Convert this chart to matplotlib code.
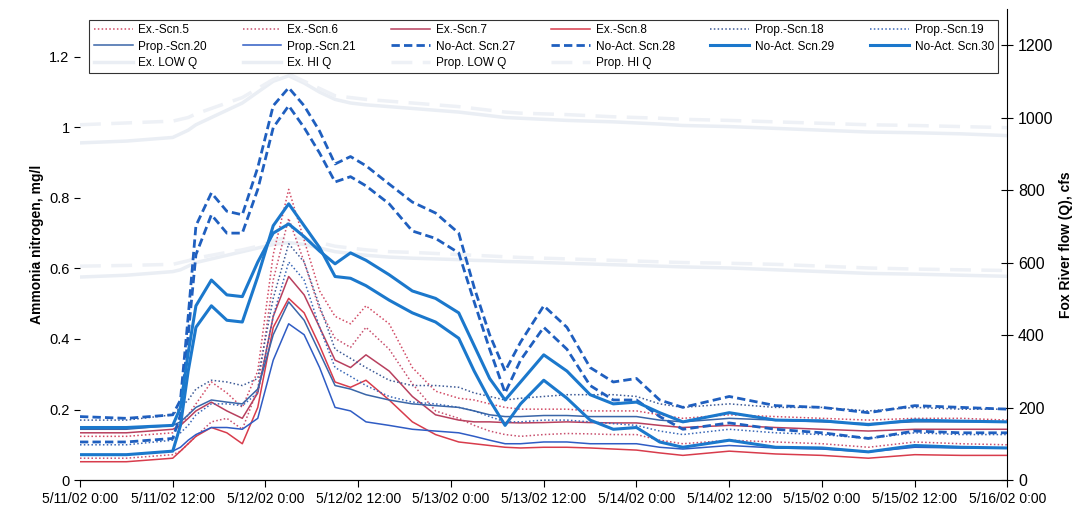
import matplotlib.pyplot as plt
import numpy as np

plt.rcParams['font.family'] = ['Liberation Sans', 'DejaVu Sans']

# time in hours from 5/11/02 0:00
hours = [0, 6, 12, 13, 14, 15, 17, 19, 21, 23, 25, 27, 29, 31, 33, 35, 37, 40, 43, 46,
         49, 51, 53, 55, 57, 60, 63, 66, 69, 72, 75, 78, 84, 90, 96, 102, 108, 114, 120]

xlabels = ['5/11/02 0:00', '5/11/02 12:00', '5/12/02 0:00', '5/12/02 12:00', '5/13/02 0:00',
           '5/13/02 12:00', '5/14/02 0:00', '5/14/02 12:00', '5/15/02 0:00', '5/15/02 12:00',
           '5/16/02 0:00']

# ammonia nitrogen, mg/l
ex5 = [0.124, 0.124, 0.134, 0.155, 0.185, 0.216, 0.278, 0.247, 0.206, 0.309, 0.639, 0.824, 0.68,
       0.536, 0.464, 0.443, 0.494, 0.443, 0.319, 0.252, 0.232, 0.227, 0.216, 0.206, 0.201, 0.201,
       0.201, 0.196, 0.196, 0.196, 0.185, 0.175, 0.185, 0.18, 0.175, 0.17, 0.175, 0.175, 0.17]
ex6 = [0.062, 0.062, 0.072, 0.082, 0.103, 0.124, 0.165, 0.175, 0.144, 0.258, 0.567, 0.742, 0.618,
       0.484, 0.402, 0.376, 0.433, 0.371, 0.273, 0.196, 0.175, 0.155, 0.139, 0.129, 0.124, 0.129,
       0.132, 0.131, 0.129, 0.129, 0.113, 0.103, 0.113, 0.108, 0.103, 0.093, 0.108, 0.103, 0.1]
ex7 = [0.134, 0.134, 0.144, 0.155, 0.175, 0.196, 0.221, 0.196, 0.175, 0.247, 0.464, 0.577, 0.525,
       0.433, 0.34, 0.319, 0.355, 0.309, 0.237, 0.185, 0.17, 0.165, 0.165, 0.163, 0.162, 0.163,
       0.165, 0.163, 0.162, 0.162, 0.155, 0.149, 0.155, 0.149, 0.144, 0.139, 0.144, 0.144, 0.144]
ex8 = [0.052, 0.052, 0.062, 0.082, 0.103, 0.124, 0.149, 0.134, 0.103, 0.206, 0.433, 0.515, 0.474,
       0.381, 0.278, 0.263, 0.283, 0.227, 0.165, 0.129, 0.108, 0.103, 0.098, 0.093, 0.091, 0.093,
       0.093, 0.091, 0.088, 0.085, 0.077, 0.07, 0.082, 0.074, 0.07, 0.062, 0.072, 0.07, 0.07]
prop18 = [0.17, 0.17, 0.185, 0.206, 0.227, 0.258, 0.283, 0.278, 0.268, 0.288, 0.515, 0.67, 0.618,
          0.494, 0.371, 0.345, 0.319, 0.283, 0.268, 0.268, 0.263, 0.247, 0.237, 0.227, 0.232, 0.237,
          0.242, 0.242, 0.242, 0.237, 0.216, 0.206, 0.216, 0.206, 0.206, 0.196, 0.206, 0.201, 0.201]
prop19 = [0.1, 0.1, 0.113, 0.134, 0.155, 0.185, 0.216, 0.216, 0.211, 0.247, 0.464, 0.618, 0.567,
          0.433, 0.319, 0.294, 0.268, 0.237, 0.221, 0.216, 0.206, 0.196, 0.18, 0.165, 0.165, 0.17,
          0.17, 0.165, 0.16, 0.155, 0.139, 0.129, 0.144, 0.134, 0.129, 0.118, 0.134, 0.129, 0.129]
prop20 = [0.144, 0.144, 0.155, 0.165, 0.185, 0.206, 0.227, 0.221, 0.216, 0.258, 0.412, 0.505, 0.453,
          0.361, 0.268, 0.258, 0.242, 0.227, 0.216, 0.211, 0.206, 0.196, 0.185, 0.18, 0.18, 0.183,
          0.183, 0.18, 0.18, 0.18, 0.17, 0.165, 0.175, 0.17, 0.165, 0.16, 0.165, 0.165, 0.165]
prop21 = [0.072, 0.072, 0.082, 0.093, 0.113, 0.129, 0.149, 0.149, 0.144, 0.175, 0.34, 0.443, 0.412,
          0.319, 0.206, 0.196, 0.165, 0.155, 0.144, 0.139, 0.134, 0.124, 0.113, 0.103, 0.103, 0.108,
          0.108, 0.103, 0.103, 0.103, 0.093, 0.088, 0.098, 0.091, 0.088, 0.08, 0.093, 0.091, 0.091]
na27 = [0.108, 0.108, 0.118, 0.185, 0.412, 0.639, 0.752, 0.7, 0.7, 0.824, 0.999, 1.061, 0.999,
        0.927, 0.845, 0.86, 0.834, 0.783, 0.706, 0.685, 0.644, 0.505, 0.371, 0.247, 0.34, 0.433,
        0.371, 0.268, 0.227, 0.227, 0.18, 0.144, 0.162, 0.144, 0.134, 0.118, 0.139, 0.134, 0.134]
na28 = [0.18, 0.175, 0.185, 0.227, 0.464, 0.721, 0.814, 0.762, 0.752, 0.886, 1.061, 1.112, 1.061,
        0.989, 0.896, 0.917, 0.891, 0.839, 0.788, 0.757, 0.7, 0.546, 0.412, 0.309, 0.391, 0.494,
        0.433, 0.319, 0.278, 0.288, 0.227, 0.206, 0.237, 0.211, 0.206, 0.191, 0.211, 0.206, 0.201]
na29 = [0.149, 0.149, 0.155, 0.206, 0.361, 0.494, 0.567, 0.525, 0.52, 0.618, 0.7, 0.726, 0.69,
        0.649, 0.613, 0.644, 0.623, 0.582, 0.536, 0.515, 0.474, 0.381, 0.288, 0.227, 0.278, 0.355,
        0.309, 0.242, 0.216, 0.221, 0.191, 0.165, 0.191, 0.17, 0.168, 0.157, 0.17, 0.167, 0.165]
na30 = [0.072, 0.072, 0.082, 0.155, 0.309, 0.433, 0.494, 0.453, 0.448, 0.577, 0.721, 0.783, 0.721,
        0.659, 0.577, 0.572, 0.551, 0.51, 0.474, 0.448, 0.402, 0.309, 0.227, 0.155, 0.216, 0.283,
        0.232, 0.17, 0.144, 0.149, 0.108, 0.093, 0.113, 0.093, 0.091, 0.08, 0.098, 0.093, 0.091]

# Fox River flow, cfs
ex_low_q = [560, 565, 575, 580, 590, 600, 610, 620, 630, 640, 650, 655, 650, 640, 630, 625, 620, 615,
            612, 610, 608, 606, 605, 603, 602, 600, 598, 596, 594, 592, 590, 588, 585, 580, 575, 570,
            568, 565, 562]
prop_low_q = [590, 592, 595, 600, 605, 612, 620, 628, 635, 645, 660, 670, 665, 655, 645, 640, 635,
              630, 628, 625, 622, 620, 618, 616, 614, 612, 610, 608, 606, 604, 602, 600, 598, 595,
              590, 585, 582, 580, 578]
ex_hi_q = [930, 935, 945, 955, 965, 980, 1000, 1020, 1040, 1070, 1100, 1115, 1095, 1070, 1050, 1040,
           1035, 1030, 1025, 1020, 1015, 1010, 1005, 1000, 998, 995, 992, 990, 988, 985, 982, 978, 975,
           970, 965, 960, 958, 955, 950]
prop_hi_q = [980, 985, 990, 995, 1000, 1010, 1025, 1040, 1055, 1080, 1105, 1120, 1100, 1080, 1060,
             1055, 1050, 1045, 1040, 1035, 1030, 1025, 1020, 1015, 1012, 1010, 1008, 1005, 1002, 1000,
             998, 995, 992, 988, 984, 980, 978, 975, 972]

fig = plt.figure(figsize=(10.81, 5.14), dpi=100)
ax = fig.add_axes([0.074, 0.066, 0.858, 0.917])
ax2 = ax.twinx()

dot = (0, (1, 1.5))
dash = (0, (3, 1.5))

hq1, = ax2.plot(hours, ex_low_q, color='#eaeef4', lw=2.5, label='Ex. LOW Q')
hq2, = ax2.plot(hours, ex_hi_q, color='#eaeef4', lw=2.5, label='Ex. HI Q')
hq3, = ax2.plot(hours, prop_low_q, color='#eef1f6', lw=2.5, dashes=(6, 3), label='Prop. LOW Q')
hq4, = ax2.plot(hours, prop_hi_q, color='#eef1f6', lw=2.5, dashes=(6, 3), label='Prop. HI Q')

h5, = ax.plot(hours, ex5, color='#d24a64', lw=1.1, linestyle=dot, label='Ex.-Scn.5')
h6, = ax.plot(hours, ex6, color='#c8506e', lw=1.1, linestyle=dot, label='Ex.-Scn.6')
h7, = ax.plot(hours, ex7, color='#b8405e', lw=1.1, label='Ex.-Scn.7')
h8, = ax.plot(hours, ex8, color='#d83c4c', lw=1.1, label='Ex.-Scn.8')
h18, = ax.plot(hours, prop18, color='#3d5a96', lw=1.1, linestyle=dot, label='Prop.-Scn.18')
h19, = ax.plot(hours, prop19, color='#3a68b8', lw=1.1, linestyle=dot, label='Prop.-Scn.19')
h20, = ax.plot(hours, prop20, color='#3a66a8', lw=1.1, label='Prop.-Scn.20')
h21, = ax.plot(hours, prop21, color='#2f5cc4', lw=1.1, label='Prop.-Scn.21')
h27, = ax.plot(hours, na27, color='#1f5fbf', lw=2, linestyle=dash, label='No-Act. Scn.27')
h28, = ax.plot(hours, na28, color='#1f5fbf', lw=2, linestyle=dash, label='No-Act. Scn.28')
h29, = ax.plot(hours, na29, color='#1b78cc', lw=2.2, label='No-Act. Scn.29')
h30, = ax.plot(hours, na30, color='#1b78cc', lw=2.2, label='No-Act. Scn.30')

ax.set_zorder(ax2.get_zorder() + 1)
ax.patch.set_visible(False)

ax.set_xlim(0, 120)
ax.set_ylim(0, 1.336)
ax2.set_ylim(0, 1300)
ax.set_xticks(range(0, 121, 12))
ax.set_xticklabels(xlabels, fontsize=10)
ax.set_yticks([0, 0.2, 0.4, 0.6, 0.8, 1.0, 1.2])
ax.set_yticklabels(['0', '0.2', '0.4', '0.6', '0.8', '1', '1.2'], fontsize=10.5)
ax2.set_yticks(range(0, 1201, 200))
ax2.tick_params(axis='y', labelsize=11.5, direction='inout', length=8)
ax.tick_params(axis='x', direction='out', length=5)
ax.tick_params(axis='y', direction='out', length=4)

for a in (ax, ax2):
    a.spines['top'].set_visible(False)
ax.spines['right'].set_visible(False)
ax.spines['left'].set_visible(False)
ax2.spines['left'].set_visible(False)

ax.set_ylabel('Ammonia nitrogen, mg/l', fontsize=10, fontweight='bold')
ax2.set_ylabel('Fox River flow (Q), cfs', fontsize=10, fontweight='bold')

# column-major order so rows read like the original legend
handles = [h5, h20, hq1, h6, h21, hq2, h7, h27, hq3, h8, h28, hq4, h18, h29, h19, h30]
leg = ax.legend(handles=handles, labels=[h.get_label() for h in handles], ncol=6, loc='upper center',
                bbox_to_anchor=(0.5, 0.988), fontsize=8.5, frameon=True, fancybox=False,
                edgecolor='black', handlelength=3.3, handletextpad=0.5, columnspacing=3.0,
                labelspacing=0.35, borderpad=0.35)
leg.get_frame().set_linewidth(0.8)

fig.savefig('out.png', dpi=100)
